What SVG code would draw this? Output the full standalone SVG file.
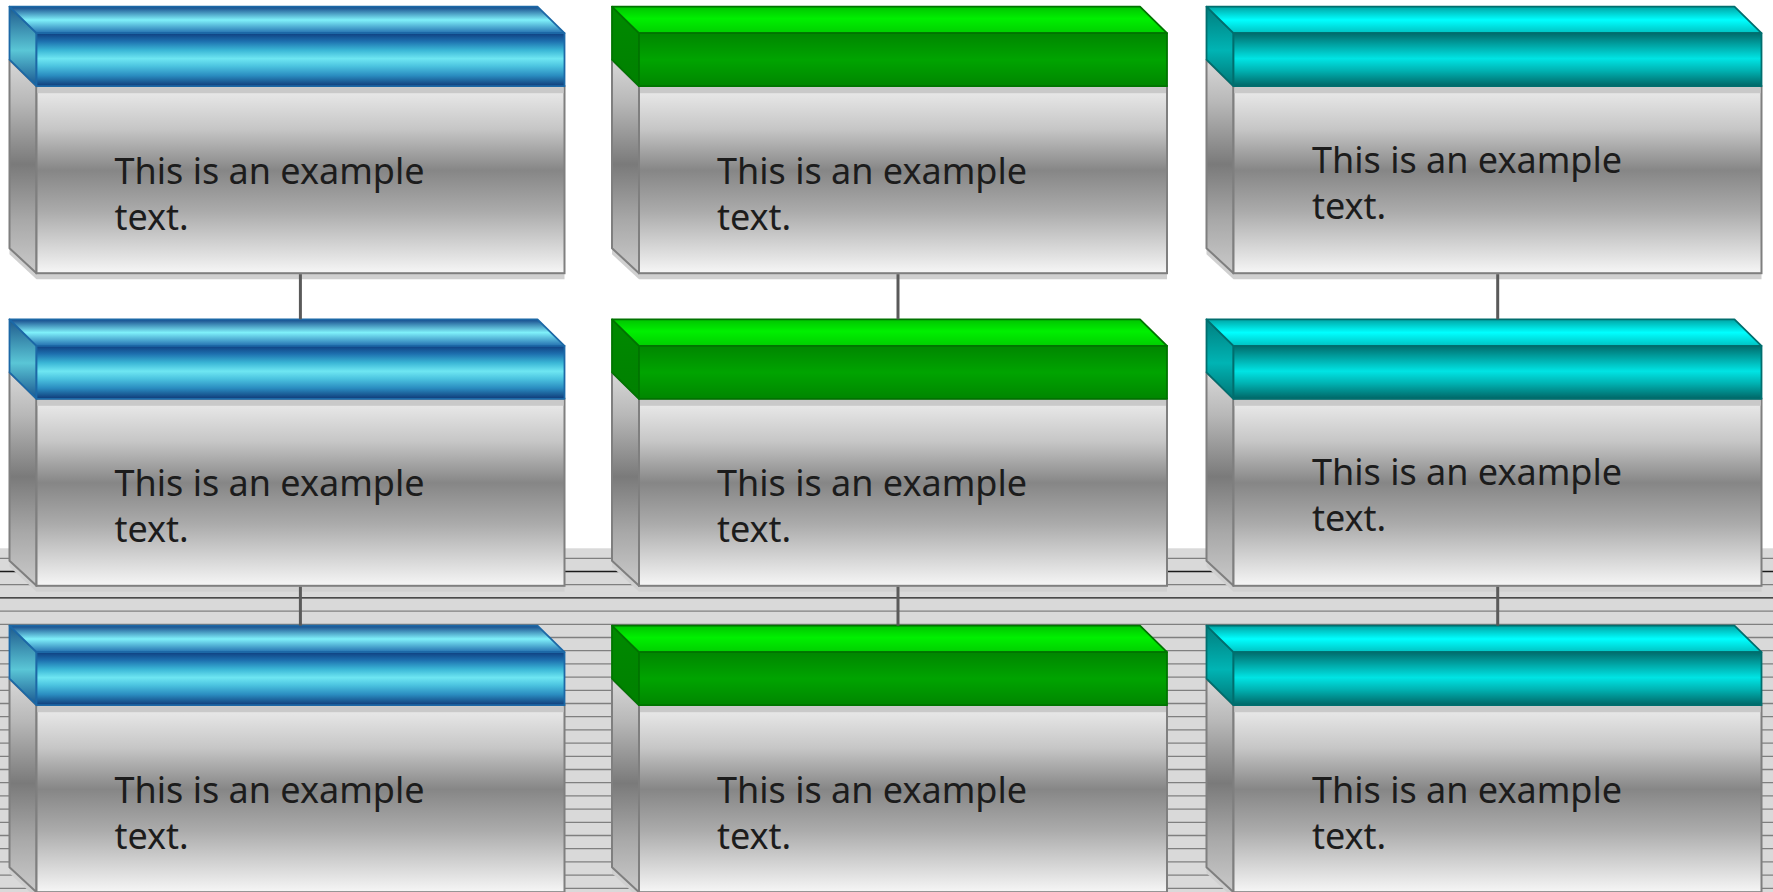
<svg xmlns="http://www.w3.org/2000/svg" width="1773" height="892" viewBox="0 0 1773 892">
<style>
.bodyF{fill:url(#gBodyF);stroke:#7f7f7f;stroke-width:2}
.bodyS{fill:url(#gBodyS);stroke:#7f7f7f;stroke-width:2;stroke-linejoin:round}
.shadow{fill:#d0d0d0}
.strip{fill:#c9c9c9}
.bT{fill:url(#gBlueT)} .bF{fill:url(#gBlueF)} .bS{fill:url(#gBlueS)}
.bT,.bF,.bS{stroke:#1c68a6;stroke-width:1.8;stroke-linejoin:round}
.gT{fill:url(#gGreenT)} .gF{fill:url(#gGreenF)} .gS{fill:url(#gGreenS)}
.gT,.gF,.gS{stroke:#007400;stroke-width:1.8;stroke-linejoin:round}
.tT{fill:url(#gTealT)} .tF{fill:url(#gTealF)} .tS{fill:url(#gTealS)}
.tT,.tF,.tS{stroke:#006e6e;stroke-width:1.8;stroke-linejoin:round}
.lbl{font-family:"Noto Sans","Open Sans","DejaVu Sans",sans-serif;font-size:36px;fill:#1c1c1c}
.conn{stroke:#5a5a5a;stroke-width:3;fill:none}
.rule{stroke:#7f7f7f;stroke-width:1.3}
.rule.dk{stroke:#1a1a1a}
</style>
<defs>
<linearGradient id="gBodyF" x1="0" y1="0" x2="0" y2="1">
<stop offset="0" stop-color="#ededed"/><stop offset="0.23" stop-color="#c6c6c6"/><stop offset="0.45" stop-color="#868686"/><stop offset="0.67" stop-color="#ababab"/><stop offset="1" stop-color="#f6f6f6"/>
</linearGradient>
<linearGradient id="gBodyS" x1="0" y1="0" x2="0" y2="1">
<stop offset="0" stop-color="#d8d8d8"/><stop offset="0.2" stop-color="#b8b8b8"/><stop offset="0.49" stop-color="#7a7a7a"/><stop offset="0.75" stop-color="#a8a8a8"/><stop offset="1" stop-color="#cacaca"/>
</linearGradient>
<linearGradient id="gBlueF" x1="0" y1="0" x2="0" y2="1">
<stop offset="0" stop-color="#0f3f80"/><stop offset="0.15" stop-color="#1d6fae"/><stop offset="0.32" stop-color="#3ab6d6"/><stop offset="0.48" stop-color="#6ee6f2"/><stop offset="0.62" stop-color="#4cc4e0"/><stop offset="0.8" stop-color="#2a8cc0"/><stop offset="1" stop-color="#0f3a78"/>
</linearGradient>
<linearGradient id="gBlueT" x1="0" y1="0" x2="0" y2="1">
<stop offset="0" stop-color="#15488a"/><stop offset="0.5" stop-color="#7ff0fa"/><stop offset="1" stop-color="#2470b0"/>
</linearGradient>
<linearGradient id="gBlueS" x1="0" y1="0" x2="0" y2="1">
<stop offset="0" stop-color="#1f5a8c"/><stop offset="0.55" stop-color="#5ac6d6"/><stop offset="1" stop-color="#1a5690"/>
</linearGradient>
<linearGradient id="gGreenF" x1="0" y1="0" x2="0" y2="1">
<stop offset="0" stop-color="#008600"/><stop offset="0.5" stop-color="#00a400"/><stop offset="1" stop-color="#008600"/>
</linearGradient>
<linearGradient id="gGreenT" x1="0" y1="0" x2="0" y2="1">
<stop offset="0" stop-color="#00c400"/><stop offset="0.45" stop-color="#00f000"/><stop offset="1" stop-color="#00d000"/>
</linearGradient>
<linearGradient id="gGreenS" x1="0" y1="0" x2="0" y2="1">
<stop offset="0" stop-color="#008a00"/><stop offset="1" stop-color="#008000"/>
</linearGradient>
<linearGradient id="gTealF" x1="0" y1="0" x2="0" y2="1">
<stop offset="0" stop-color="#006c6c"/><stop offset="0.48" stop-color="#00e4e4"/><stop offset="0.7" stop-color="#00b4b4"/><stop offset="1" stop-color="#006666"/>
</linearGradient>
<linearGradient id="gTealT" x1="0" y1="0" x2="0" y2="1">
<stop offset="0" stop-color="#00a4a4"/><stop offset="0.5" stop-color="#00ffff"/><stop offset="1" stop-color="#00c2c2"/>
</linearGradient>
<linearGradient id="gTealS" x1="0" y1="0" x2="0" y2="1">
<stop offset="0" stop-color="#007e7e"/><stop offset="0.55" stop-color="#00b4b4"/><stop offset="1" stop-color="#007474"/>
</linearGradient>
<g id="base">
<polygon class="shadow" points="0,6 528,6 555,32.5 555,272.5 27,272.5 0,247.5"/>
<polygon class="bodyS" points="0,53 27,79.5 27,266.5 0,241.5"/>
<rect class="bodyF" x="27" y="79.5" width="528" height="187"/>
<rect class="strip" x="28" y="80.5" width="526" height="6"/>
</g>
<g id="boxBlue">
<use href="#base"/>
<polygon class="bS" points="0,0 27,26.5 27,79.5 0,53"/>
<polygon class="bT" points="0,0 528,0 555,26.5 27,26.5"/>
<rect class="bF" x="27" y="26.5" width="528" height="53"/>
</g>
<g id="boxGreen">
<use href="#base"/>
<polygon class="gS" points="0,0 27,26.5 27,79.5 0,53"/>
<polygon class="gT" points="0,0 528,0 555,26.5 27,26.5"/>
<rect class="gF" x="27" y="26.5" width="528" height="53"/>
</g>
<g id="boxTeal">
<use href="#base"/>
<polygon class="tS" points="0,0 27,26.5 27,79.5 0,53"/>
<polygon class="tT" points="0,0 528,0 555,26.5 27,26.5"/>
<rect class="tF" x="27" y="26.5" width="528" height="53"/>
</g>
</defs>
<g id="background">
<rect x="0" y="548.3" width="1773" height="344" fill="#d9d9d9"/>
<g>
<line class="rule" x1="0" y1="558.3" x2="1773" y2="558.3"/>
<line class="rule dk" x1="0" y1="571.5" x2="1773" y2="571.5"/>
<line class="rule" x1="0" y1="584.7" x2="1773" y2="584.7"/>
<line class="rule dk" x1="0" y1="597.9" x2="1773" y2="597.9"/>
<line class="rule" x1="0" y1="611.1" x2="1773" y2="611.1"/>
<line class="rule" x1="0" y1="624.3" x2="1773" y2="624.3"/>
<line class="rule" x1="0" y1="637.5" x2="1773" y2="637.5"/>
<line class="rule" x1="0" y1="650.7" x2="1773" y2="650.7"/>
<line class="rule" x1="0" y1="663.9" x2="1773" y2="663.9"/>
<line class="rule" x1="0" y1="677.1" x2="1773" y2="677.1"/>
<line class="rule" x1="0" y1="690.3" x2="1773" y2="690.3"/>
<line class="rule" x1="0" y1="703.5" x2="1773" y2="703.5"/>
<line class="rule" x1="0" y1="716.7" x2="1773" y2="716.7"/>
<line class="rule" x1="0" y1="729.9" x2="1773" y2="729.9"/>
<line class="rule" x1="0" y1="743.1" x2="1773" y2="743.1"/>
<line class="rule" x1="0" y1="756.3" x2="1773" y2="756.3"/>
<line class="rule" x1="0" y1="769.5" x2="1773" y2="769.5"/>
<line class="rule" x1="0" y1="782.7" x2="1773" y2="782.7"/>
<line class="rule" x1="0" y1="795.9" x2="1773" y2="795.9"/>
<line class="rule" x1="0" y1="809.1" x2="1773" y2="809.1"/>
<line class="rule" x1="0" y1="822.3" x2="1773" y2="822.3"/>
<line class="rule" x1="0" y1="835.5" x2="1773" y2="835.5"/>
<line class="rule" x1="0" y1="848.7" x2="1773" y2="848.7"/>
<line class="rule" x1="0" y1="861.9" x2="1773" y2="861.9"/>
<line class="rule" x1="0" y1="875.1" x2="1773" y2="875.1"/>
<line class="rule" x1="0" y1="888.3" x2="1773" y2="888.3"/>
</g>
</g>
<g id="node-r1c1" transform="translate(9.5,6.7)"><use href="#boxBlue"/><text class="lbl" x="105" y="177">This is an example</text><text class="lbl" x="105" y="223">text.</text></g>
<g id="node-r1c2" transform="translate(612,6.7)"><use href="#boxGreen"/><text class="lbl" x="105" y="177">This is an example</text><text class="lbl" x="105" y="223">text.</text></g>
<g id="node-r1c3" transform="translate(1206.5,6.7)"><use href="#boxTeal"/><text class="lbl" x="105.5" y="166">This is an example</text><text class="lbl" x="105.5" y="212">text.</text></g>
<g id="node-r2c1" transform="translate(9.5,319.3)"><use href="#boxBlue"/><text class="lbl" x="105" y="177">This is an example</text><text class="lbl" x="105" y="223">text.</text></g>
<g id="node-r2c2" transform="translate(612,319.3)"><use href="#boxGreen"/><text class="lbl" x="105" y="177">This is an example</text><text class="lbl" x="105" y="223">text.</text></g>
<g id="node-r2c3" transform="translate(1206.5,319.3)"><use href="#boxTeal"/><text class="lbl" x="105.5" y="166">This is an example</text><text class="lbl" x="105.5" y="212">text.</text></g>
<g id="node-r3c1" transform="translate(9.5,625.7)"><use href="#boxBlue"/><text class="lbl" x="105" y="177">This is an example</text><text class="lbl" x="105" y="223">text.</text></g>
<g id="node-r3c2" transform="translate(612,625.7)"><use href="#boxGreen"/><text class="lbl" x="105" y="177">This is an example</text><text class="lbl" x="105" y="223">text.</text></g>
<g id="node-r3c3" transform="translate(1206.5,625.7)"><use href="#boxTeal"/><text class="lbl" x="105.5" y="177">This is an example</text><text class="lbl" x="105.5" y="223">text.</text></g>
<g id="connectors">
<line class="conn" x1="300.4" y1="274.2" x2="300.4" y2="319.3"/>
<line class="conn" x1="898" y1="274.2" x2="898" y2="319.3"/>
<line class="conn" x1="1497.7" y1="274.2" x2="1497.7" y2="319.3"/>
<line class="conn" x1="300.4" y1="586.8" x2="300.4" y2="625.7"/>
<line class="conn" x1="898" y1="586.8" x2="898" y2="625.7"/>
<line class="conn" x1="1497.7" y1="586.8" x2="1497.7" y2="625.7"/>
</g>
</svg>
